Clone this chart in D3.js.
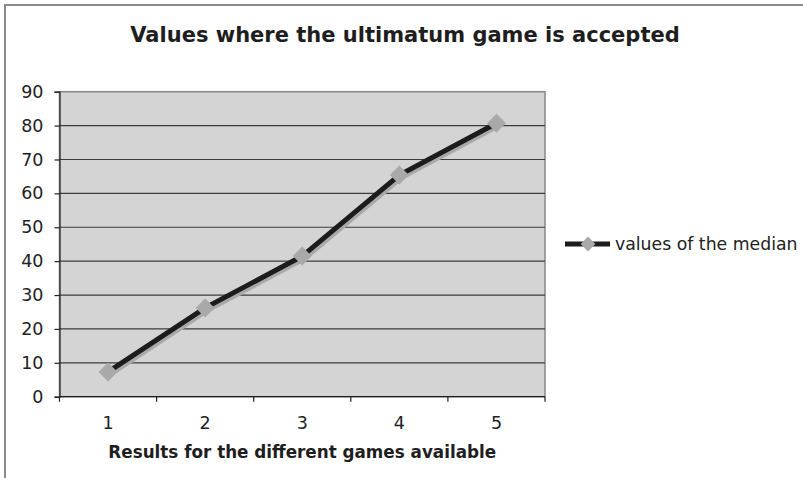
<!DOCTYPE html>
<html>
<head>
<meta charset="utf-8">
<script src="https://cdn.jsdelivr.net/npm/d3@7"></script>
<style>
  html, body { margin: 0; padding: 0; background: #fff; }
  svg { display: block; }
</style>
</head>
<body>
<script>
// Chart data
const categories = [1, 2, 3, 4, 5];
const medianValues = [7.3, 26.2, 41.5, 65.4, 80.7];
const yTicks = [0, 10, 20, 30, 40, 50, 60, 70, 80, 90];
const seriesName = "values of the median";
const chartTitle = "Values where the ultimatum game is accepted";
const xTitle = "Results for the different games available";

const W = 803, H = 478;
const plot = { left: 59.5, right: 545, top: 91.7, bottom: 396.7 };
const font = "DejaVu Sans, Verdana, sans-serif";

const svg = d3.select("body").append("svg")
  .attr("width", W).attr("height", H);

// outer frame (top and left edges visible)
svg.append("rect")
  .attr("x", 5).attr("y", 5)
  .attr("width", W + 10).attr("height", H + 10)
  .attr("fill", "#fff").attr("stroke", "#8a8a8a").attr("stroke-width", 2);

const x = d3.scaleBand().domain(categories)
  .range([plot.left, plot.right]).paddingInner(0).paddingOuter(0);
const y = d3.scaleLinear().domain([0, 90]).range([plot.bottom, plot.top]);

// plot background
svg.append("rect")
  .attr("x", plot.left).attr("y", plot.top)
  .attr("width", plot.right - plot.left).attr("height", plot.bottom - plot.top)
  .attr("fill", "#d4d4d5").attr("stroke", "#888").attr("stroke-width", 1.5);

// horizontal gridlines
svg.append("g").selectAll("line")
  .data(yTicks.filter(v => v > 0 && v < 90))
  .join("line")
  .attr("x1", plot.left).attr("x2", plot.right)
  .attr("y1", d => y(d)).attr("y2", d => y(d))
  .attr("stroke", "#3c3c3c").attr("stroke-width", 1.2);

// y axis
const yAxis = svg.append("g")
  .attr("transform", `translate(${plot.left},0)`)
  .call(d3.axisLeft(y).tickValues(yTicks).tickSize(5).tickPadding(11));
yAxis.select(".domain").attr("stroke", "#222").attr("stroke-width", 1.2);
yAxis.selectAll(".tick line").attr("stroke", "#222").attr("stroke-width", 1.2);
yAxis.selectAll(".tick text")
  .attr("font-family", font).attr("font-size", 17.5).attr("fill", "#222");

// x axis (ticks at category boundaries)
const xAxisG = svg.append("g")
  .attr("transform", `translate(0,${plot.bottom})`);
xAxisG.append("line")
  .attr("x1", plot.left).attr("x2", plot.right)
  .attr("stroke", "#222").attr("stroke-width", 1.2);
const boundaries = categories.map(c => x(c) + x.bandwidth()).concat([x(categories[0])]);
xAxisG.selectAll("line.tk").data(boundaries).join("line")
  .attr("class", "tk")
  .attr("x1", d => d).attr("x2", d => d)
  .attr("y1", 0).attr("y2", 5)
  .attr("stroke", "#222").attr("stroke-width", 1.2);
xAxisG.selectAll("text").data(categories).join("text")
  .attr("x", d => x(d) + x.bandwidth() / 2)
  .attr("y", 32.5)
  .attr("text-anchor", "middle")
  .attr("font-family", font).attr("font-size", 17.5).attr("fill", "#222")
  .text(d => d);

// titles
svg.append("text")
  .attr("x", 405).attr("y", 42)
  .attr("text-anchor", "middle")
  .attr("font-family", font).attr("font-weight", "bold").attr("font-size", 21)
  .attr("fill", "#1e1e1e")
  .text(chartTitle);

svg.append("text")
  .attr("x", (plot.left + plot.right) / 2).attr("y", 458)
  .attr("text-anchor", "middle")
  .attr("font-family", font).attr("font-weight", "bold").attr("font-size", 16.8)
  .attr("fill", "#1e1e1e")
  .text(xTitle);

// series: soft shadow, dark line, grey diamond markers
const pts = categories.map((c, i) => [x(c) + x.bandwidth() / 2, y(medianValues[i])]);
const line = d3.line();

svg.append("path")
  .attr("d", line(pts.map(p => [p[0] + 2, p[1] + 2.5])))
  .attr("fill", "none").attr("stroke", "#a9a9a9").attr("stroke-width", 5);
svg.append("path")
  .attr("d", line(pts))
  .attr("fill", "none").attr("stroke", "#1c1c1c").attr("stroke-width", 5);

svg.append("g").selectAll("path")
  .data(pts).join("path")
  .attr("transform", p => `translate(${p[0]},${p[1]}) rotate(45)`)
  .attr("d", d3.symbol().type(d3.symbolSquare).size(180))
  .attr("fill", "#a9a9aa");

// legend
const lg = svg.append("g").attr("transform", "translate(565,244)");
lg.append("line").attr("x1", 0).attr("x2", 45).attr("y1", 0).attr("y2", 0)
  .attr("stroke", "#1c1c1c").attr("stroke-width", 5);
lg.append("path")
  .attr("transform", "translate(23,0) rotate(45)")
  .attr("d", d3.symbol().type(d3.symbolSquare).size(110))
  .attr("fill", "#a9a9aa");
lg.append("text")
  .attr("x", 50).attr("y", 6)
  .attr("font-family", font).attr("font-size", 17.3).attr("fill", "#222")
  .text(seriesName);
</script>
</body>
</html>
